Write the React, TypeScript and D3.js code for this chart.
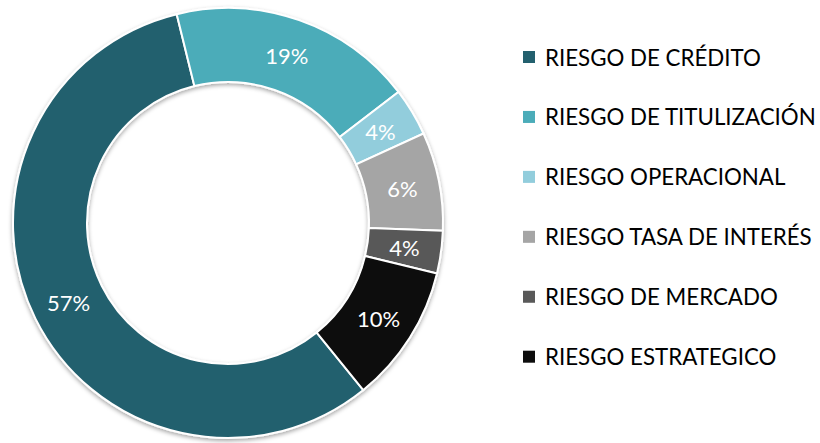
import React from "react";
import * as d3 from "d3";

const categories = [
  "RIESGO DE CRÉDITO",
  "RIESGO DE TITULIZACIÓN",
  "RIESGO OPERACIONAL",
  "RIESGO TASA DE INTERÉS",
  "RIESGO DE MERCADO",
  "RIESGO ESTRATEGICO",
];
const values = [57.0, 18.4, 3.6, 7.4, 3.2, 10.4];
const labels = ["57%", "19%", "4%", "6%", "4%", "10%"];
const colors = ["#23606E", "#4BACB9", "#92CDDC", "#A5A5A5", "#595959", "#0D0D0D"];

const W = 820;
const H = 443;
const cx = 228;
const cy = 223;
const R = 215;
const r = 141;
const startDeg = 141;
const FONT = "Lato, 'Open Sans', sans-serif";

export default function App() {
  const pie = d3
    .pie<number>()
    .sort(null)
    .value((d) => d)
    .startAngle((startDeg * Math.PI) / 180)
    .endAngle(((startDeg + 360) * Math.PI) / 180);
  const arcs = pie(values);
  const arc = d3.arc<d3.PieArcDatum<number>>().innerRadius(r).outerRadius(R);
  const mid = (R + r) / 2;
  const labelArc = d3.arc<d3.PieArcDatum<number>>().innerRadius(mid).outerRadius(mid);

  const legendY = d3.scalePoint<string>().domain(categories).range([57, 356.7]);

  return (
    <svg
      width={W}
      height={H}
      style={{ position: "absolute", left: 0, top: 0, background: "#fff" }}
    >
      <defs>
        <filter id="sh" x="-10%" y="-10%" width="120%" height="120%">
          <feDropShadow dx="0" dy="2" stdDeviation="2" floodColor="#000" floodOpacity="0.35" />
        </filter>
      </defs>
      <g transform={`translate(${cx},${cy})`}>
        <g filter="url(#sh)">
          {arcs.map((a, i) => (
            <path key={i} d={arc(a) || ""} fill={colors[i]} stroke="#fff" strokeWidth={2} />
          ))}
        </g>
        {arcs.map((a, i) => {
          const [x, y] = labelArc.centroid(a);
          return (
            <text
              key={i}
              x={x}
              y={y}
              textAnchor="middle"
              dominantBaseline="central"
              fill="#fff"
              fontFamily={FONT}
              fontSize={22}
            >
              {labels[i]}
            </text>
          );
        })}
      </g>
      <g>
        {categories.map((c, i) => (
          <g key={c} transform={`translate(0,${legendY(c)})`}>
            <rect x={523} y={-6} width={12} height={12} fill={colors[i]} />
            <text
              x={545}
              y={0}
              dominantBaseline="central"
              fill="#000"
              fontFamily={FONT}
              fontSize={22.3}
            >
              {c}
            </text>
          </g>
        ))}
      </g>
    </svg>
  );
}
